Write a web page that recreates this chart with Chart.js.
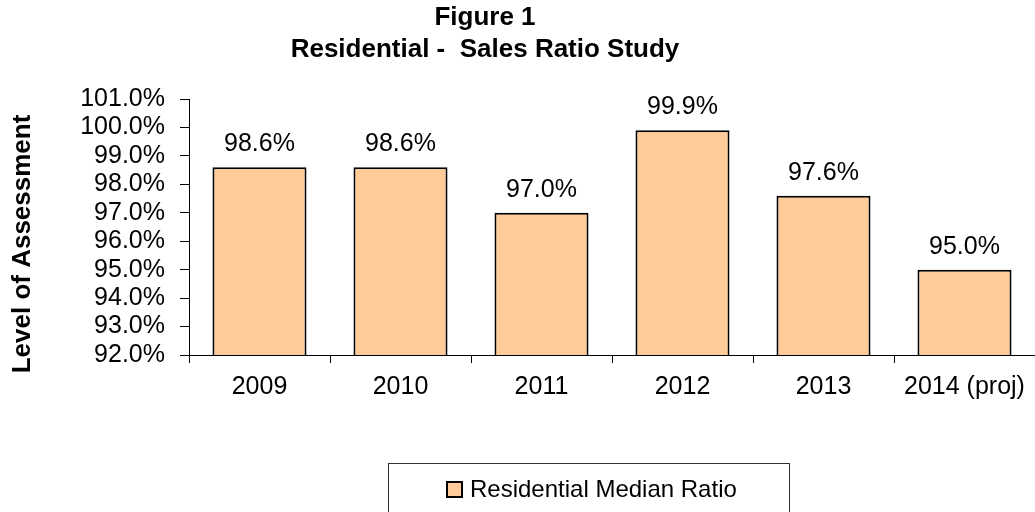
<!DOCTYPE html>
<html>
<head>
<meta charset="utf-8">
<script src="https://cdn.jsdelivr.net/npm/chart.js@4/dist/chart.umd.min.js"></script>
<style>
  html, body { margin: 0; padding: 0; background: #fff; }
  #wrap { width: 1035px; height: 512px; }
</style>
</head>
<body>
<div id="wrap"><canvas id="c" width="1035" height="512"></canvas></div>
<script>
// Residential sales ratio study: median level of assessment per year
const years = ['2009', '2010', '2011', '2012', '2013', '2014 (proj)'];
const medianRatio = [98.6, 98.6, 97.0, 99.9, 97.6, 95.0];
const seriesName = 'Residential Median Ratio';
const titleLines = ['Figure 1', 'Residential -  Sales Ratio Study'];
const yAxisTitle = 'Level of Assessment';
const yMin = 92, yMax = 101, yStep = 1;

const FONT = '"Liberation Sans", Arial, Helvetica, sans-serif';
const BAR_FILL = '#FFCC99';
const INK = '#000000';

// two-line heading and the rotated value-axis caption
const headings = {
  id: 'headings',
  afterDraw(chart, args, opts) {
    const { ctx } = chart;
    ctx.save();
    ctx.fillStyle = INK;
    ctx.textAlign = 'center';
    ctx.textBaseline = 'middle';
    ctx.font = 'bold 26px ' + FONT;
    titleLines.forEach((line, i) => {
      ctx.fillText(line, opts.titleX, opts.titleY + i * opts.titleLineGap);
    });
    ctx.translate(opts.axisTitleX, opts.axisTitleY);
    ctx.rotate(-Math.PI / 2);
    ctx.font = 'bold 26px ' + FONT;
    ctx.fillText(yAxisTitle, 0, 0);
    ctx.restore();
  }
};

// percentage labels above each bar
const valueLabels = {
  id: 'valueLabels',
  afterDatasetsDraw(chart) {
    const { ctx } = chart;
    const meta = chart.getDatasetMeta(0);
    ctx.save();
    ctx.font = '25px ' + FONT;
    ctx.fillStyle = INK;
    ctx.textAlign = 'center';
    ctx.textBaseline = 'alphabetic';
    meta.data.forEach((bar, i) => {
      ctx.fillText(medianRatio[i].toFixed(1) + '%', bar.x, bar.y - 16);
    });
    ctx.restore();
  }
};

// framed legend below the chart
const framedLegend = {
  id: 'framedLegend',
  afterDraw(chart, args, opts) {
    const { ctx } = chart;
    const ds = chart.data.datasets[0];
    ctx.save();
    ctx.strokeStyle = '#333';
    ctx.lineWidth = 1;
    ctx.strokeRect(opts.frameLeft + 0.5, opts.frameTop + 0.5, opts.frameWidth, opts.frameHeight);
    ctx.fillStyle = ds.backgroundColor;
    ctx.fillRect(opts.boxLeft, opts.centerY - 7, 15, 15);
    ctx.strokeStyle = INK;
    ctx.lineWidth = 2;
    ctx.strokeRect(opts.boxLeft, opts.centerY - 7, 15, 15);
    ctx.fillStyle = INK;
    ctx.font = '24px ' + FONT;
    ctx.textAlign = 'left';
    ctx.textBaseline = 'middle';
    ctx.fillText(ds.label, opts.boxLeft + 23, opts.centerY + 1);
    ctx.restore();
  }
};

new Chart(document.getElementById('c'), {
  type: 'bar',
  data: {
    labels: years,
    datasets: [{
      label: seriesName,
      data: medianRatio,
      backgroundColor: BAR_FILL,
      borderColor: INK,
      borderWidth: 2,
      borderSkipped: false,
      categoryPercentage: 1.0,
      barPercentage: 0.667
    }]
  },
  plugins: [headings, valueLabels, framedLegend],
  options: {
    responsive: false,
    animation: false,
    devicePixelRatio: 1,
    layout: { padding: { top: 99, left: 0, right: 0, bottom: 0 } },
    plugins: {
      legend: { display: false },
      tooltip: { enabled: false },
      title: { display: false },
      headings: {
        titleX: 485, titleY: 18, titleLineGap: 32,
        axisTitleX: 23, axisTitleY: 244
      },
      framedLegend: {
        frameLeft: 388, frameTop: 463, frameWidth: 401, frameHeight: 80,
        boxLeft: 447, centerY: 489
      }
    },
    scales: {
      x: {
        afterFit(scale) { scale.height = 157; },
        border: { display: true, color: INK, width: 1 },
        grid: {
          offset: true,
          drawOnChartArea: false,
          drawTicks: true,
          tickLength: 8,
          color: INK
        },
        ticks: {
          color: INK,
          padding: 9,
          font: { family: FONT, size: 25 }
        }
      },
      y: {
        min: yMin,
        max: yMax,
        afterFit(scale) { scale.width = 189; },
        border: { display: true, color: INK, width: 1 },
        grid: {
          drawOnChartArea: false,
          drawTicks: true,
          tickLength: 9,
          color: INK
        },
        ticks: {
          stepSize: yStep,
          autoSkip: false,
          color: INK,
          padding: 15,
          font: { family: FONT, size: 25 },
          callback: (v) => Number(v).toFixed(1) + '%'
        }
      }
    }
  }
});
</script>
</body>
</html>
